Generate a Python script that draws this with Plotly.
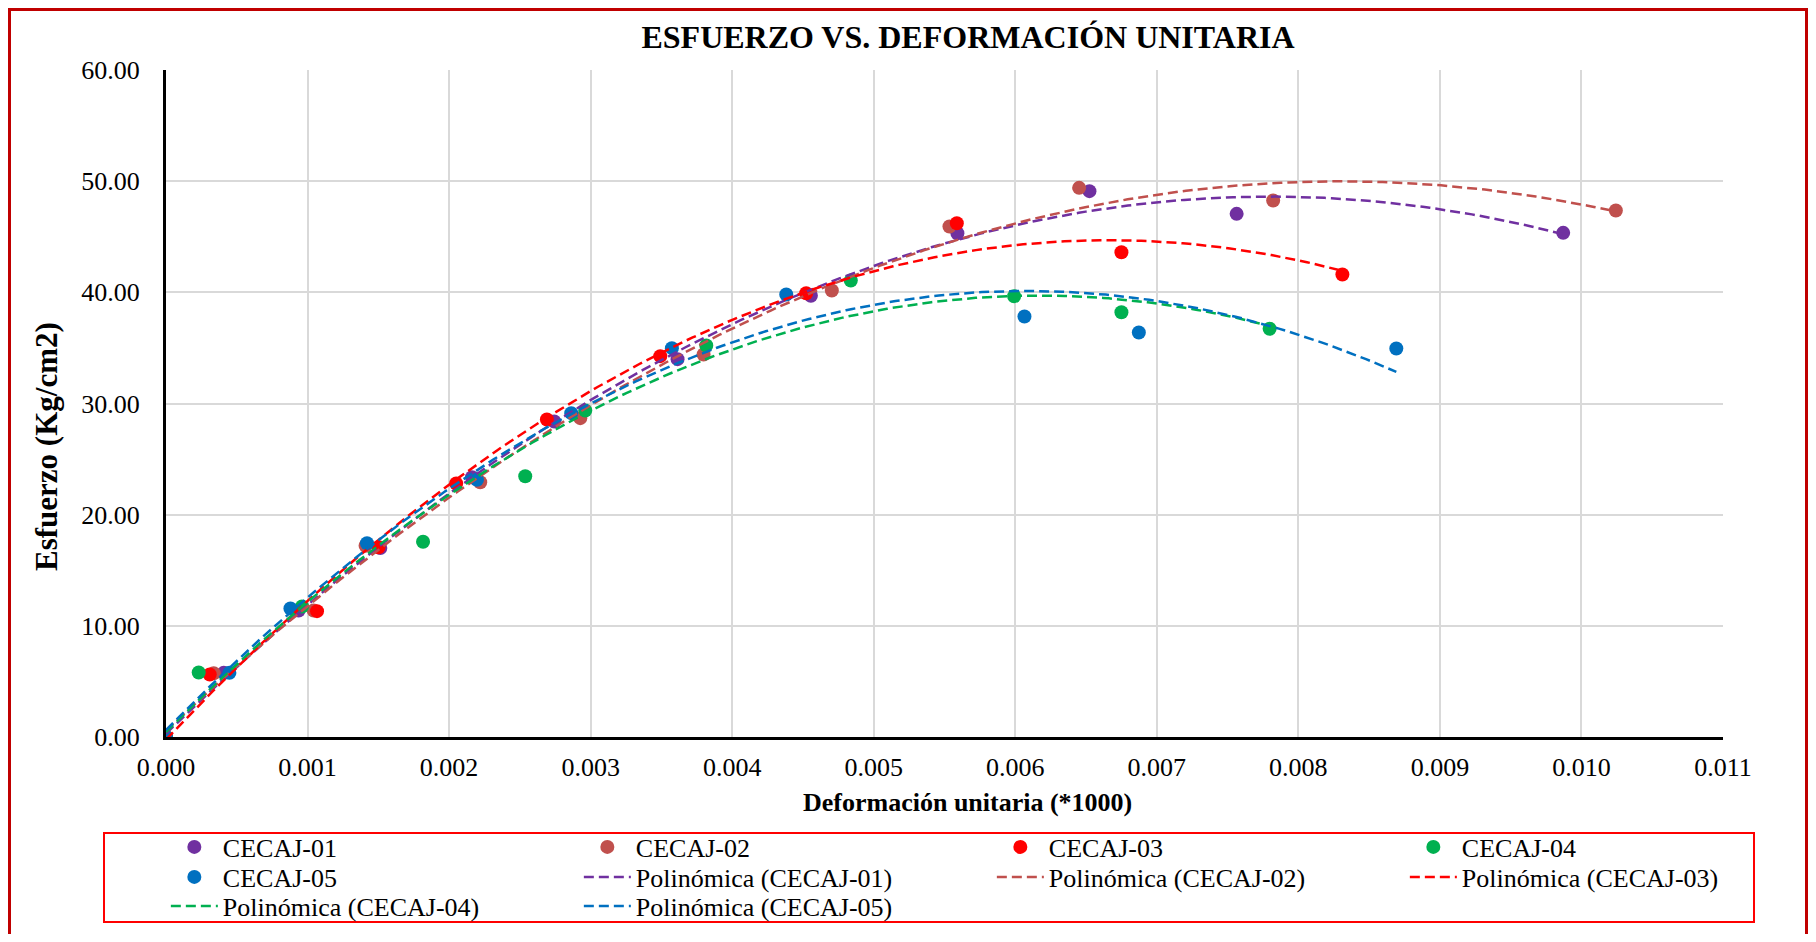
import numpy as np
import plotly.graph_objects as go

# ---- data ----
x01 = [0.0, 0.000408, 0.000937, 0.001514, 0.002162, 0.002743, 0.003614, 0.004556, 0.005591, 0.006524, 0.007564, 0.009871]
y01 = [0.0, 5.77, 11.38, 17.00, 23.37, 28.38, 33.99, 39.69, 45.32, 49.10, 47.06, 45.35]

x02 = [0.0, 0.000337, 0.001043, 0.001410, 0.002220, 0.002927, 0.003798, 0.004704, 0.005535, 0.006451, 0.007822, 0.010243]
y02 = [0.0, 5.74, 11.38, 17.20, 22.92, 28.68, 34.41, 40.16, 45.92, 49.40, 48.26, 47.36]

x03 = [0.0, 0.000309, 0.001067, 0.001502, 0.002050, 0.002691, 0.003492, 0.004523, 0.005587, 0.006750, 0.008311]
y03 = [0.0, 5.62, 11.32, 17.07, 22.80, 28.56, 34.26, 39.92, 46.22, 43.61, 41.60]

x04 = [0.0, 0.000231, 0.000961, 0.001816, 0.002538, 0.002962, 0.003817, 0.004838, 0.005992, 0.006750, 0.007797]
y04 = [0.0, 5.80, 11.74, 17.56, 23.46, 29.37, 35.22, 41.06, 39.65, 38.21, 36.72]

x05 = [0.0, 0.000448, 0.000879, 0.001420, 0.002197, 0.002863, 0.003574, 0.004382, 0.006065, 0.006873, 0.008692]
y05 = [0.0, 5.77, 11.56, 17.43, 23.13, 29.13, 34.98, 39.80, 37.83, 36.39, 34.95]

names = ["CECAJ-01", "CECAJ-02", "CECAJ-03", "CECAJ-04", "CECAJ-05"]
colors = ["#7030A0", "#C0504D", "#FF0000", "#00B050", "#0070C0"]
xs = [x01, x02, x03, x04, x05]
ys = [y01, y02, y03, y04, y05]

x_ticks = [i / 1000 for i in range(12)]
y_ticks = [0, 10, 20, 30, 40, 50, 60]

FONT = "Liberation Serif"
OFF = 8  # page offset of the figure (body margin)
W, H = 1816 - 2 * OFF, 942 - 2 * OFF
L, R, T, B = 158, 85, 62, 197
PW, PH = W - L - R, H - T - B


def pp(px, py):
    """reference page pixel -> paper coordinates"""
    fx, fy = px - OFF, py - OFF
    return (fx - L) / PW, (H - B - fy) / PH


fig = go.Figure()

# legend rows (as in the reference): row1 = 4 markers; row2 = CECAJ-05 + 3 trends; row3 = 2 trends
legend_of_marker = ["legend", "legend", "legend", "legend", "legend2"]
legend_of_trend = ["legend2", "legend2", "legend2", "legend3", "legend3"]

for n, c, x, y, lg in zip(names, colors, xs, ys, legend_of_marker):
    fig.add_trace(go.Scatter(x=x, y=y, mode="markers", name=n, legend=lg,
                             marker=dict(color=c, size=14)))

# polynomial (order 2) trend lines, fitted to each series like the Excel trendline
for n, c, x, y, lg in zip(names, colors, xs, ys, legend_of_trend):
    coef = np.polyfit(x, y, 2)
    xt = np.linspace(0, max(x), 200)
    yt = np.polyval(coef, xt)
    fig.add_trace(go.Scatter(x=xt, y=yt, mode="lines", name=f"Polinómica ({n})", legend=lg,
                             line=dict(color=c, width=2.5, dash="10px,5px"),
                             hoverinfo="skip"))

shapes = []
# outer dark-red frame
fx0, fy1 = pp(OFF + 1.5, OFF + 1.5)
fx1, fy0 = pp(OFF + W - 1.5, 990)
shapes.append(dict(type="rect", xref="paper", yref="paper", x0=fx0, x1=fx1, y0=fy0, y1=fy1,
                   line=dict(color="#C00000", width=3), layer="below"))
# legend box
lx0, ly1 = pp(104, 833)
lx1, ly0 = pp(1754, 922)
shapes.append(dict(type="rect", xref="paper", yref="paper", x0=lx0, x1=lx1, y0=ly0, y1=ly1,
                   line=dict(color="#FF0000", width=2)))

ax_x, ax_y = pp(967, 802)
ay_x, ay_y = pp(46, 447)

leg_common = dict(orientation="h", x=-0.0001, xanchor="left", yanchor="middle",
                  entrywidth=351, entrywidthmode="pixels", itemwidth=47,
                  font=dict(family=FONT, size=26, color="black"),
                  bgcolor="rgba(0,0,0,0)", borderwidth=0)

fig.update_layout(
    width=W, height=H,
    margin=dict(l=L, r=R, t=T, b=B, autoexpand=False),
    paper_bgcolor="white", plot_bgcolor="white",
    font=dict(family=FONT, size=26, color="black"),
    title=dict(text="<b>ESFUERZO VS. DEFORMACIÓN UNITARIA</b>", x=(968 - OFF) / W, xanchor="center",
               y=1 - (37 - OFF) / H, yanchor="middle", font=dict(family=FONT, size=32, color="black")),
    showlegend=True,
    legend=dict(y=pp(0, 847)[1], **leg_common),
    legend2=dict(y=pp(0, 877)[1], **leg_common),
    legend3=dict(y=pp(0, 906)[1], **leg_common),
    shapes=shapes,
    annotations=[
        dict(text="<b>Deformación unitaria (*1000)</b>", xref="paper", yref="paper",
             x=ax_x, y=ax_y, xanchor="center", yanchor="middle", showarrow=False,
             font=dict(family=FONT, size=26, color="black")),
        dict(text="<b>Esfuerzo (Kg/cm2)</b>", xref="paper", yref="paper",
             x=ay_x, y=ay_y, xanchor="center", yanchor="middle", showarrow=False, textangle=-90,
             font=dict(family=FONT, size=31, color="black")),
    ],
)

fig.update_xaxes(range=[0, 0.011], tickvals=x_ticks, tickformat=".3f",
                 showgrid=True, gridcolor="#D9D9D9", gridwidth=2,
                 showline=True, linecolor="black", linewidth=3,
                 zeroline=False, ticks="", ticklabelstandoff=5,
                 tickfont=dict(family=FONT, size=26, color="black"))
fig.update_yaxes(range=[0, 60], tickvals=y_ticks, tickformat=".2f",
                 showgrid=True, gridcolor="#D9D9D9", gridwidth=2,
                 showline=True, linecolor="black", linewidth=3,
                 zeroline=False, ticks="", ticklabelstandoff=18,
                 tickfont=dict(family=FONT, size=26, color="black"))

fig.write_html("out.html")
